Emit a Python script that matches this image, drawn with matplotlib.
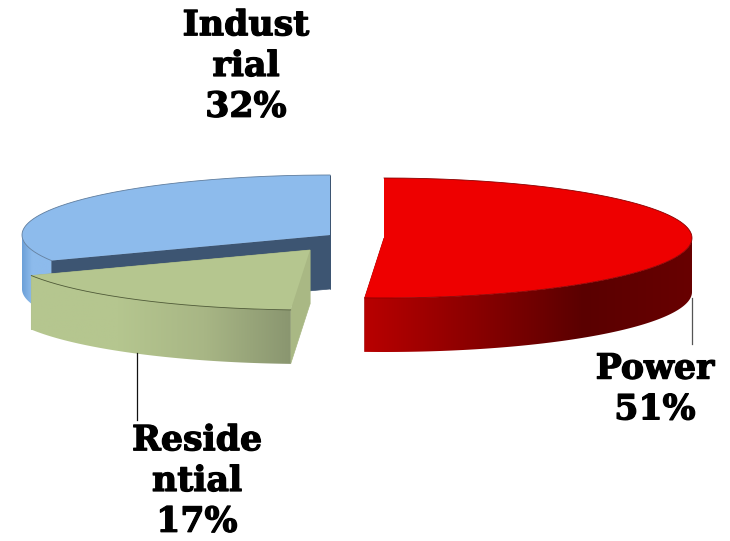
import numpy as np
import matplotlib
matplotlib.use('Agg')
import matplotlib.pyplot as plt
import matplotlib.patheffects as pe
from matplotlib.patches import Polygon
from matplotlib.colors import LinearSegmentedColormap

# data, clockwise from 12 o'clock starting with Power
categories = ['Power', 'Residential', 'Industrial']
shares = [51, 17, 32]
label_texts = ['Power\n51%', 'Reside\nntial\n17%', 'Indust\nrial\n32%']

# layout in pixels of the 730x541 picture
RX, RY, DEPTH = 308, 60, 54
centers = [(384, 238), (310, 250), (330, 235)]
label_pos = [(655, 389), (197, 481), (246, 66)]
top_colors = ['#ee0000', '#b5c68f', '#8dbbec']
rim_colors = ['#8a0000', '#4f5a38', '#5f7d9e']
wall_stops = [['#b80000', '#8a0000', '#5a0000', '#680000'],
              ['#b5c68f', '#b5c68f', '#a8b685', '#8a9670'],
              ['#6b9fd8', '#8dbbec', '#8dbbec', '#8dbbec']]
cut_colors = ['#a80000', '#a9b884', '#3d5572']

fig = plt.figure(figsize=(7.30, 5.41), dpi=100)
ax = fig.add_axes([0, 0, 1, 1])


def rim(cx, cy, a):
    # a is degrees clockwise from the top of the pie
    r = np.radians(a)
    return np.column_stack([cx + RX * np.sin(r), cy - RY * np.cos(r)])


edges = np.cumsum([0] + shares) * 3.6
z = 1
# back slice first so the nearer ones cover it
for i in [2, 0, 1]:
    a0, a1 = edges[i], edges[i + 1]
    cx, cy = centers[i]
    angles = np.linspace(a0, a1, 300)
    pts = rim(cx, cy, angles)
    apex = np.array([cx, cy], dtype=float)

    # cut faces of the slice
    for end in (pts[0], pts[-1]):
        quad = [apex, end, end + [0, DEPTH], apex + [0, DEPTH]]
        ax.add_patch(Polygon(quad, closed=True, fc=cut_colors[i], ec=cut_colors[i], lw=0.5, zorder=z))

    # outer wall, only the part facing the viewer, gradient clipped to its shape
    front = np.where(np.cos(np.radians(angles)) < 0)[0]
    front_pts = pts[front]
    wall = np.vstack([front_pts, front_pts[::-1] + [0, DEPTH]])
    xmin, xmax = front_pts[:, 0].min(), front_pts[:, 0].max()
    cmap = LinearSegmentedColormap.from_list('wall', wall_stops[i])
    im = ax.imshow(np.linspace(0, 1, 256)[None, :], cmap=cmap, aspect='auto',
                   extent=[xmin, xmax, wall[:, 1].max(), wall[:, 1].min()], zorder=z + 0.1)
    im.set_clip_path(Polygon(wall, closed=True, transform=ax.transData))

    # top face
    ax.add_patch(Polygon(np.vstack([apex, pts]), closed=True, fc=top_colors[i],
                         ec='none', zorder=z + 0.2))
    ax.plot(pts[:, 0], pts[:, 1], color=rim_colors[i], lw=0.6, zorder=z + 0.3)
    z += 1

# leader lines
ax.plot([692, 692], [298, 344], color='#555555', lw=0.9, zorder=5)
ax.plot([137, 137], [353, 420], color='#111111', lw=0.9, zorder=5)

for txt, (x, y) in zip(label_texts, label_pos):
    ax.text(x, y, txt, ha='center', va='center', family='DejaVu Serif',
            weight='bold', fontsize=25, linespacing=1.25, color='black', zorder=6,
            path_effects=[pe.withStroke(linewidth=0.9, foreground='black')])

ax.set_xlim(0, 730)
ax.set_ylim(541, 0)
ax.axis('off')
fig.savefig('out.png', dpi=100)
